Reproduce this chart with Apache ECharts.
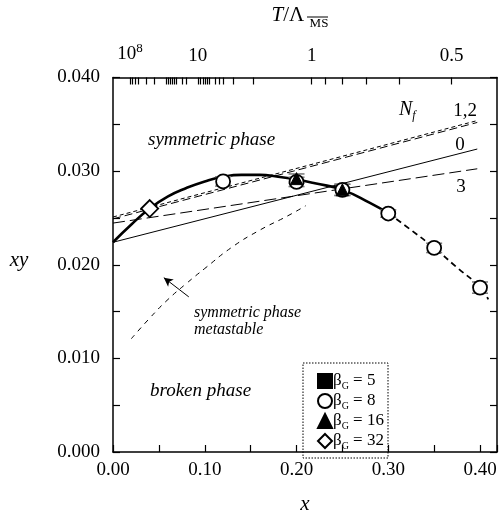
<!DOCTYPE html>
<html><head><meta charset="utf-8">
<script src="https://cdn.jsdelivr.net/npm/echarts@6/dist/echarts.min.js"></script>
<style>html,body{margin:0;padding:0;background:#fff}#c{width:500px;height:520px}</style>
</head><body><div id="c"></div>
<script>
// ---- data ----
const betaNames = ['βG = 5', 'βG = 8', 'βG = 16', 'βG = 32'];
const beta5 = [];
const beta8 = [[0.12, 0.0289], [0.20, 0.02885], [0.25, 0.0280], [0.30, 0.02547], [0.35, 0.0218], [0.40, 0.01756]];
const beta8Err = [0.0005, 0.0005, 0.0006, 0.0004, 0.0005, 0.0006];
const beta16 = [[0.20, 0.0292], [0.25, 0.0280]];
const beta16Err = [0.0005, 0.0006];
const beta32 = [[0.04, 0.0260]];
const fitSolid = [[0, 0.0224], [0.02, 0.0243], [0.04, 0.0260], [0.06, 0.0273], [0.08, 0.0282], [0.10, 0.0289], [0.12, 0.0294], [0.14, 0.0296], [0.16, 0.0296], [0.18, 0.0294], [0.20, 0.0291], [0.22, 0.0287], [0.25, 0.0280], [0.28, 0.0266], [0.30, 0.0255]];
const fitDashed = [[0.30, 0.0255], [0.325, 0.0237], [0.35, 0.0218], [0.375, 0.0197], [0.40, 0.0176], [0.409, 0.0163]];
const metastable = [[0.02, 0.0121], [0.04, 0.0143], [0.06, 0.0163], [0.08, 0.0180], [0.10, 0.0196], [0.13, 0.0219], [0.16, 0.0237], [0.19, 0.0252], [0.21, 0.0263]];
const nf0 = [[0, 0.0224], [0.397, 0.03236]];
const nf1 = [[0, 0.0251], [0.397, 0.0354]];
const nf2 = [[0, 0.0249], [0.397, 0.0352]];
const nf3 = [[0, 0.02445], [0.397, 0.03025]];
const arrow = [[0.0826, 0.01657], [0.0554, 0.01862]];
const topTickX = [0.0185, 0.0215, 0.024, 0.028, 0.036, 0.0445, 0.058, 0.0605, 0.0625, 0.065, 0.067, 0.069, 0.075, 0.080, 0.0925, 0.095, 0.098, 0.100, 0.103, 0.105, 0.111, 0.116, 0.120, 0.1315, 0.153, 0.2165, 0.231, 0.250, 0.276, 0.312, 0.369];
const topLabelX = [0.0185, 0.0925, 0.2165, 0.369];
const topLabels = ['10{sup|8}', '10', '1', '0.5'];

const SERIF = 'Liberation Serif';
const X_MAX = 0.4185;

const chart = echarts.init(document.getElementById('c'), null, {renderer: 'canvas'});

function errSeries(pts, errs) {
  return {
    type: 'custom', xAxisIndex: 0, yAxisIndex: 0, z: 3, silent: true,
    data: pts.map((p, i) => [p[0], p[1] - errs[i], p[1] + errs[i]]),
    renderItem(params, api) {
      const lo = api.coord([api.value(0), api.value(1)]);
      const hi = api.coord([api.value(0), api.value(2)]);
      const w = 8, st = {stroke: '#777', lineWidth: 1.5};
      return {type: 'group', children: [
        {type: 'line', shape: {x1: lo[0], y1: lo[1], x2: hi[0], y2: hi[1]}, style: st},
        {type: 'line', shape: {x1: lo[0] - w, y1: lo[1], x2: lo[0] + w, y2: lo[1]}, style: st},
        {type: 'line', shape: {x1: hi[0] - w, y1: hi[1], x2: hi[0] + w, y2: hi[1]}, style: st}
      ]};
    }
  };
}
function lineSeries(data, width, dash, smooth) {
  return {type: 'line', data, showSymbol: false, symbol: 'none', smooth: !!smooth, silent: true, z: 2,
    lineStyle: {color: '#000', width, type: dash || 'solid'}};
}

const axisLineStyle = {show: true, onZero: false, lineStyle: {color: '#000', width: 1.5}};
const tickStyle = {color: '#000', width: 1.2};

const option = {
  animation: false,
  backgroundColor: '#fff',
  grid: {left: 113, right: 2, top: 73, bottom: 56, containLabel: false},
  xAxis: [{
    type: 'value', min: 0, max: X_MAX, interval: 0.1, position: 'bottom',
    axisLine: axisLineStyle, splitLine: {show: false},
    axisTick: {inside: true, length: 7, lineStyle: tickStyle},
    minorTick: {show: true, splitNumber: 2, length: 7, lineStyle: tickStyle},
    axisLabel: {fontFamily: SERIF, fontSize: 19, color: '#000', margin: 9,
      formatter: v => Math.abs(v * 10 - Math.round(v * 10)) < 1e-6 ? v.toFixed(2) : ''},
    name: 'x', nameLocation: 'middle', nameGap: 42,
    nameTextStyle: {fontFamily: SERIF, fontStyle: 'italic', fontSize: 21, color: '#000'}
  }, {
    type: 'value', min: 0, max: X_MAX, position: 'top',
    axisLine: axisLineStyle, splitLine: {show: false},
    axisTick: {inside: true, length: 7, customValues: topTickX, lineStyle: tickStyle},
    axisLabel: {fontFamily: SERIF, fontSize: 19, color: '#000', margin: 12, customValues: topLabelX,
      formatter: v => {
        let best = 0;
        topLabelX.forEach((t, i) => { if (Math.abs(t - v) < Math.abs(topLabelX[best] - v)) best = i; });
        return topLabels[best];
      },
      rich: {sup: {fontFamily: SERIF, fontSize: 13, verticalAlign: 'top', padding: [0, 0, 10, 0]}}},
    name: '{i|T}{n|/Λ }{s|MS}', nameLocation: 'middle', nameGap: 47,
    nameTextStyle: {fontFamily: SERIF, fontSize: 21, color: '#000', padding: [0, 10, 0, 0],
      rich: {i: {fontFamily: SERIF, fontStyle: 'italic', fontSize: 21, lineHeight: 30, verticalAlign: 'middle'},
             n: {fontFamily: SERIF, fontSize: 21, lineHeight: 30, verticalAlign: 'middle'},
             s: {fontFamily: SERIF, fontSize: 13, lineHeight: 14, verticalAlign: 'bottom'}}}
  }],
  yAxis: [{
    type: 'value', min: 0, max: 0.04, interval: 0.01, position: 'left',
    axisLine: axisLineStyle, splitLine: {show: false},
    axisTick: {inside: true, length: 7, lineStyle: tickStyle},
    minorTick: {show: true, splitNumber: 2, length: 7, lineStyle: tickStyle},
    axisLabel: {fontFamily: SERIF, fontSize: 19, color: '#000', margin: 13, formatter: v => v.toFixed(3)}
  }, {
    type: 'value', min: 0, max: 0.04, interval: 0.01, position: 'right',
    axisLine: axisLineStyle, splitLine: {show: false}, axisLabel: {show: false},
    axisTick: {inside: true, length: 7, lineStyle: tickStyle},
    minorTick: {show: true, splitNumber: 2, length: 7, lineStyle: tickStyle}
  }],
  legend: {
    orient: 'vertical', left: 312, top: 366, itemGap: 0, itemWidth: 14, itemHeight: 14,
    data: betaNames,
    formatter: name => '{b|β}{g|G}{t|' + name.slice(2) + '}',
    textStyle: {fontFamily: SERIF, fontSize: 17, color: '#000', lineHeight: 20, padding: [0, 0, 0, -4],
      rich: {b: {fontFamily: SERIF, fontSize: 17, lineHeight: 20},
             g: {fontFamily: SERIF, fontSize: 10, lineHeight: 20, verticalAlign: 'bottom', padding: [6, 0, 0, 0]},
             t: {fontFamily: SERIF, fontSize: 17, lineHeight: 20}}}
  },
  graphic: [
    {type: 'rect', shape: {x: 303, y: 363, width: 85, height: 95}, silent: true,
     style: {fill: 'none', stroke: '#000', lineWidth: 1, lineDash: [1.5, 1.5]}},
    {type: 'line', shape: {x1: 307, y1: 17, x2: 328, y2: 17}, silent: true, style: {stroke: '#000', lineWidth: 1}},
    {type: 'text', x: 19, y: 260, silent: true, style: {text: 'xy', font: 'italic 21px "Liberation Serif"', fill: '#000', align: 'center', verticalAlign: 'middle'}},
    {type: 'text', x: 148, y: 140, silent: true, style: {text: 'symmetric phase', font: 'italic 19px "Liberation Serif"', fill: '#000', verticalAlign: 'middle'}},
    {type: 'text', x: 150, y: 391, silent: true, style: {text: 'broken phase', font: 'italic 19px "Liberation Serif"', fill: '#000', verticalAlign: 'middle'}},
    {type: 'text', x: 194, y: 313, silent: true, style: {text: 'symmetric phase', font: 'italic 16px "Liberation Serif"', fill: '#000', verticalAlign: 'middle'}},
    {type: 'text', x: 194, y: 330, silent: true, style: {text: 'metastable', font: 'italic 16px "Liberation Serif"', fill: '#000', verticalAlign: 'middle'}},
    {type: 'text', x: 399, y: 110, silent: true, style: {text: '{n|N}{f|f}', verticalAlign: 'middle',
      rich: {n: {fontFamily: SERIF, fontStyle: 'italic', fontSize: 20, fill: '#000', lineHeight: 24},
             f: {fontFamily: SERIF, fontStyle: 'italic', fontSize: 12, fill: '#000', lineHeight: 10, verticalAlign: 'bottom'}}}},
    {type: 'text', x: 465, y: 111, silent: true, style: {text: '1,2', font: '19px "Liberation Serif"', fill: '#000', align: 'center', verticalAlign: 'middle'}},
    {type: 'text', x: 460, y: 145, silent: true, style: {text: '0', font: '19px "Liberation Serif"', fill: '#000', align: 'center', verticalAlign: 'middle'}},
    {type: 'text', x: 461, y: 187, silent: true, style: {text: '3', font: '19px "Liberation Serif"', fill: '#000', align: 'center', verticalAlign: 'middle'}}
  ],
  series: [
    lineSeries(nf0, 1, 'solid'),
    lineSeries(nf1, 1, [4, 3]),
    lineSeries(nf2, 1, [8, 4]),
    lineSeries(nf3, 1, [12, 5]),
    lineSeries(metastable, 1, [5, 5], true),
    lineSeries(fitSolid, 2.6, 'solid', true),
    lineSeries(fitDashed, 1.8, [6, 4], true),
    {type: 'line', data: [], silent: true, showSymbol: false,
     markLine: {silent: true, symbol: ['none', 'arrow'], symbolSize: [7, 9], label: {show: false},
       lineStyle: {color: '#000', width: 1, type: 'solid'},
       data: [[{coord: arrow[0]}, {coord: arrow[1]}]]}},
    errSeries(beta8, beta8Err),
    errSeries(beta16, beta16Err),
    {name: betaNames[0], type: 'scatter', data: beta5, symbol: 'rect', symbolSize: 12, z: 5,
     itemStyle: {color: '#000', borderColor: '#000', borderWidth: 1, opacity: 1}},
    {name: betaNames[1], type: 'scatter', data: beta8, symbol: 'circle', symbolSize: 14, z: 5,
     itemStyle: {color: '#fff', borderColor: '#000', borderWidth: 1.8, opacity: 1}},
    {name: betaNames[2], type: 'scatter', data: beta16, symbol: 'triangle', symbolSize: 12, z: 6,
     itemStyle: {color: '#000', borderColor: '#000', borderWidth: 1, opacity: 1}},
    {name: betaNames[3], type: 'scatter', data: beta32, symbol: 'diamond', symbolSize: 17, z: 5,
     itemStyle: {color: '#fff', borderColor: '#000', borderWidth: 1.8, opacity: 1}}
  ]
};
chart.setOption(option);
</script>
</body></html>
